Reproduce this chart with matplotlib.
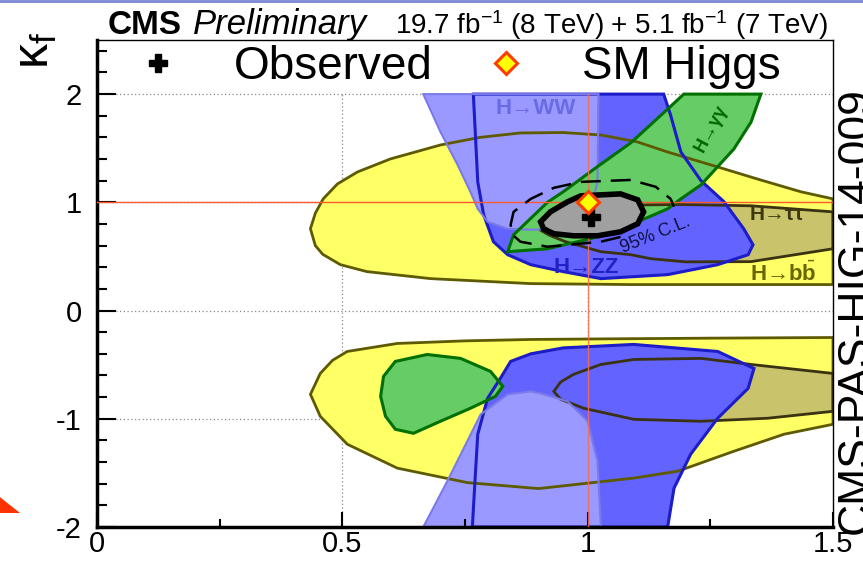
import matplotlib
matplotlib.use('Agg')
import matplotlib.pyplot as plt
from matplotlib.patches import Polygon

plt.rcParams['font.family'] = ['Liberation Sans', 'DejaVu Sans']
plt.rcParams['axes.unicode_minus'] = False
plt.rcParams['mathtext.fontset'] = 'custom'
plt.rcParams['mathtext.rm'] = 'Liberation Sans'
plt.rcParams['mathtext.it'] = 'Liberation Sans:italic'
plt.rcParams['mathtext.bf'] = 'Liberation Sans:bold'

# 68% CL contours per decay channel, (kappa_V, kappa_f)
bb_up = [(0.435, 0.756), (0.445, 0.90), (0.461, 1.032), (0.49, 1.17), (0.531, 1.281),
         (0.598, 1.401), (0.70, 1.530), (0.78, 1.60), (0.863, 1.641), (0.95, 1.645),
         (1.027, 1.622), (1.10, 1.56), (1.163, 1.465), (1.265, 1.327), (1.35, 1.21),
         (1.435, 1.097), (1.5, 1.032), (1.5, 0.240), (1.30, 0.240), (1.088, 0.240),
         (0.884, 0.249), (0.68, 0.295), (0.55, 0.36), (0.496, 0.424), (0.46, 0.52),
         (0.445, 0.60)]
bb_dn = [(0.435, -0.774), (0.455, -0.581), (0.480, -0.46), (0.510, -0.378), (0.612, -0.304),
         (0.75, -0.28), (0.884, -0.267), (1.027, -0.262), (1.25, -0.255), (1.5, -0.249),
         (1.5, -1.051), (1.40, -1.143), (1.298, -1.300), (1.184, -1.484), (1.094, -1.548),
         (0.90, -1.645), (0.755, -1.590), (0.612, -1.456), (0.510, -1.235), (0.455, -0.977)]
tt_up = [(0.905, 0.74), (0.93, 0.83), (0.96, 0.90), (1.006, 0.94), (1.09, 0.975),
         (1.19, 0.98), (1.333, 0.968), (1.5, 0.912), (1.5, 0.571), (1.333, 0.452),
         (1.20, 0.45), (1.129, 0.479), (1.088, 0.516), (1.027, 0.544), (0.955, 0.636),
         (0.92, 0.70)]
tt_dn = [(0.931, -0.747), (0.945, -0.66), (0.971, -0.590), (1.027, -0.498), (1.094, -0.452),
         (1.231, -0.442), (1.333, -0.498), (1.5, -0.581), (1.5, -0.931), (1.367, -0.995),
         (1.231, -1.023), (1.094, -1.005), (0.992, -0.903), (0.945, -0.820)]
ww_up = [(0.665, 2.0), (0.700, 1.650), (0.735, 1.345), (0.761, 1.097), (0.776, 0.94),
         (0.796, 0.820), (0.837, 0.756), (0.884, 0.747), (0.951, 0.756), (1.0, 0.820),
         (1.020, 1.189), (1.022, 2.0)]
ww_dn = [(0.665, -2.0), (0.714, -1.576), (0.782, -0.959), (0.837, -0.774), (0.884, -0.747),
         (0.904, -0.765), (0.959, -0.839), (1.0, -1.023), (1.020, -1.392), (1.027, -2.0)]
zz_up = [(0.767, 2.0), (0.776, 1.189), (0.788, 0.885), (0.808, 0.636), (0.837, 0.516),
         (0.884, 0.424), (0.951, 0.359), (1.027, 0.295), (1.163, 0.332), (1.265, 0.424),
         (1.327, 0.516), (1.337, 0.608), (1.318, 0.756), (1.278, 1.005), (1.231, 1.20),
         (1.190, 1.465), (1.169, 1.806), (1.155, 2.0)]
zz_dn = [(0.765, -2.0), (0.770, -1.6), (0.776, -1.143), (0.796, -0.811), (0.822, -0.627),
         (0.843, -0.470), (0.884, -0.40), (0.95, -0.345), (1.094, -0.313), (1.265, -0.378),
         (1.339, -0.535), (1.327, -0.719), (1.265, -0.995), (1.210, -1.327), (1.176, -1.641),
         (1.163, -2.0)]
gg_up = [(0.837, 0.544), (0.849, 0.70), (0.918, 1.0), (0.951, 1.10), (1.020, 1.33),
         (1.088, 1.55), (1.163, 1.862), (1.196, 2.0), (1.353, 2.0), (1.333, 1.742),
         (1.298, 1.493), (1.231, 1.161), (1.190, 1.032), (1.163, 0.94), (1.088, 0.793),
         (1.006, 0.664), (0.918, 0.571)]
gg_dn = [(0.578, -0.793), (0.584, -0.608), (0.608, -0.470), (0.673, -0.406), (0.741, -0.442),
         (0.802, -0.562), (0.827, -0.700), (0.812, -0.793), (0.761, -0.903), (0.700, -1.023),
         (0.645, -1.134), (0.608, -1.097), (0.588, -0.977)]

# combined fit
comb68 = [(0.904, 0.820), (0.924, 0.912), (0.959, 1.005), (0.986, 1.060), (1.067, 1.078),
          (1.102, 1.023), (1.114, 0.912), (1.102, 0.802), (1.067, 0.728), (1.020, 0.691),
          (0.971, 0.691), (0.931, 0.710), (0.910, 0.756)]
comb95 = [(1.067, 0.68), (1.027, 0.636), (0.918, 0.590), (0.863, 0.636), (0.847, 0.700),
          (0.843, 0.793), (0.849, 0.912), (0.884, 1.032), (0.931, 1.134), (0.986, 1.189),
          (1.088, 1.207), (1.139, 1.143), (1.169, 1.032), (1.176, 0.96)]
best_fit = (1.006, 0.866)
sm_point = (1.0, 1.0)

fig = plt.figure(figsize=(8.63, 5.62), dpi=100)
ax = fig.add_axes([97/863, 35/562, 736/863, 487/562])
ax.set_xlim(0, 1.5)
ax.set_ylim(-2, 2.5)

# dotted grid (stops below the legend)
ax.hlines([-1, 0, 1, 2], 0, 1.5, colors='#888888', linestyles=(0, (1, 2)), lw=0.9, zorder=0.5)
ax.vlines([0.5, 1.0], -2, 2, colors='#888888', linestyles=(0, (1, 2)), lw=0.9, zorder=0.5)

yellow, yedge = '#ffff66', '#5e5a00'
olive, oedge = '#c9c46c', '#3a3210'
blue, bedge = '#6363ff', '#1c1cc8'
lblue, lbedge = '#9999ff', '#7a7ae8'
green, gedge = '#66cc66', '#007000'

channels = [
    (bb_up, yellow, yedge, 2.0), (bb_dn, yellow, yedge, 2.0),
    (tt_up, olive, oedge, 2.0), (tt_dn, olive, oedge, 2.0),
    (zz_up, blue, bedge, 2.2), (zz_dn, blue, bedge, 2.2),
    (ww_up, lblue, lbedge, 1.5), (ww_dn, lblue, lbedge, 1.5),
    (gg_up, green, gedge, 2.2), (gg_dn, green, gedge, 2.2),
]
for pts, fc, ec, lw in channels:
    ax.add_patch(Polygon(pts, closed=True, facecolor=fc, edgecolor='none', zorder=1))
for pts, fc, ec, lw in channels:
    ax.add_patch(Polygon(pts, closed=True, facecolor='none', edgecolor=ec, lw=lw, zorder=2))

# SM reference lines
ax.axhline(1.0, color='#ff5a2a', lw=1.0, zorder=3)
ax.vlines(1.0, -2, 2, color='#ff6a4a', lw=1.0, alpha=0.85, zorder=3)

ax.add_patch(Polygon(comb68, closed=True, facecolor='#a0a0a0', edgecolor='black', lw=4, zorder=4))
ax.plot([p[0] for p in comb95], [p[1] for p in comb95], color='black', lw=1.8,
        dashes=(8, 4), zorder=4)

ax.plot(best_fit[0], best_fit[1], marker='P', color='black', ms=13, ls='none',
        zorder=6, label='Observed')
ax.plot(sm_point[0], sm_point[1], marker='D', ms=11, mfc='#ffff00', mec='#ff3c00', mew=2.2,
        ls='none', zorder=6, label='SM Higgs')

# channel labels
ax.text(0.894, 1.87, 'H→WW', color='#6a6ae6', fontsize=16, fontweight='bold',
        ha='center', va='center', zorder=7)
ax.text(0.996, 0.40, 'H→ZZ', color='#2222c4', fontsize=16, fontweight='bold',
        ha='center', va='center', zorder=7)
ax.text(1.251, 1.68, 'H→γγ', color='#006400', fontsize=13, fontweight='bold',
        rotation=62, ha='center', va='center', zorder=7)
ax.text(1.33, 0.885, 'H→ττ', color='#3c3814', fontsize=15, fontweight='bold',
        ha='left', va='center', zorder=7)
ax.text(1.33, 0.335, r'H→b$\bar{\mathbf{b}}$', color='#6b6600', fontsize=16,
        fontweight='bold', ha='left', va='center', zorder=7)
ax.text(1.139, 0.70, '95% C.L.', color='#101040', fontsize=13, rotation=22,
        ha='center', va='center', zorder=7)

ax.legend(loc='center left', bbox_to_anchor=(0.052, 0.945), ncol=2, frameon=False,
          fontsize=33, handlelength=1.0, handletextpad=1.15, columnspacing=1.1,
          borderpad=0, borderaxespad=0, markerscale=1.0)

# axes styling, ROOT look
ax.set_xticks([0, 0.5, 1.0, 1.5])
ax.set_xticklabels(['0', '0.5', '1', '1.5'])
ax.set_xticks([0.25, 0.75, 1.25], minor=True)
ax.set_yticks([-2, -1, 0, 1, 2])
ax.set_yticklabels(['-2', '-1', '0', '1', '2'])
ax.set_yticks([v / 5 for v in range(-10, 13) if v % 5 != 0], minor=True)
ax.tick_params(axis='both', which='both', direction='in', top=False, right=False,
               labelsize=21, width=1.5)
ax.tick_params(axis='y', which='major', length=14, pad=11)
ax.tick_params(axis='y', which='minor', length=7)
ax.tick_params(axis='x', which='major', length=11, pad=2.5)
ax.tick_params(axis='x', which='minor', length=6)
for s in ['left', 'bottom']:
    ax.spines[s].set_linewidth(2.5)
for s in ['top', 'right']:
    ax.spines[s].set_linewidth(1.0)

fig.text(36/863, 1 - 50/562, r'$\mathrm{\kappa_f}$', fontsize=36, rotation=90,
         ha='center', va='center')
fig.text(108/863, 1 - 34/562, 'CMS', fontsize=24, fontweight='bold', va='baseline')
fig.text(193/863, 1 - 34/562, 'Preliminary', fontsize=25, fontstyle='italic', va='baseline')
fig.text(828/863, 1 - 34/562, r'19.7 fb$^{-1}$ (8 TeV) + 5.1 fb$^{-1}$ (7 TeV)',
         fontsize=20, ha='right', va='baseline')
fig.text(836/863, 28/562, 'CMS-PAS-HIG-14-009', fontsize=32, rotation=90,
         ha='left', va='bottom')

# slide decorations around the cropped figure
fig.add_artist(plt.Line2D([0, 1], [1 - 1/562, 1 - 1/562], transform=fig.transFigure,
                          color='#7b86d6', lw=2))
fig.add_artist(Polygon([(-0.01, 72/562), (-0.01, 49/562), (20/863, 49/562)],
                       closed=True, transform=fig.transFigure, facecolor='#ff3300',
                       edgecolor='none'))

fig.savefig('out.png', dpi=100)
